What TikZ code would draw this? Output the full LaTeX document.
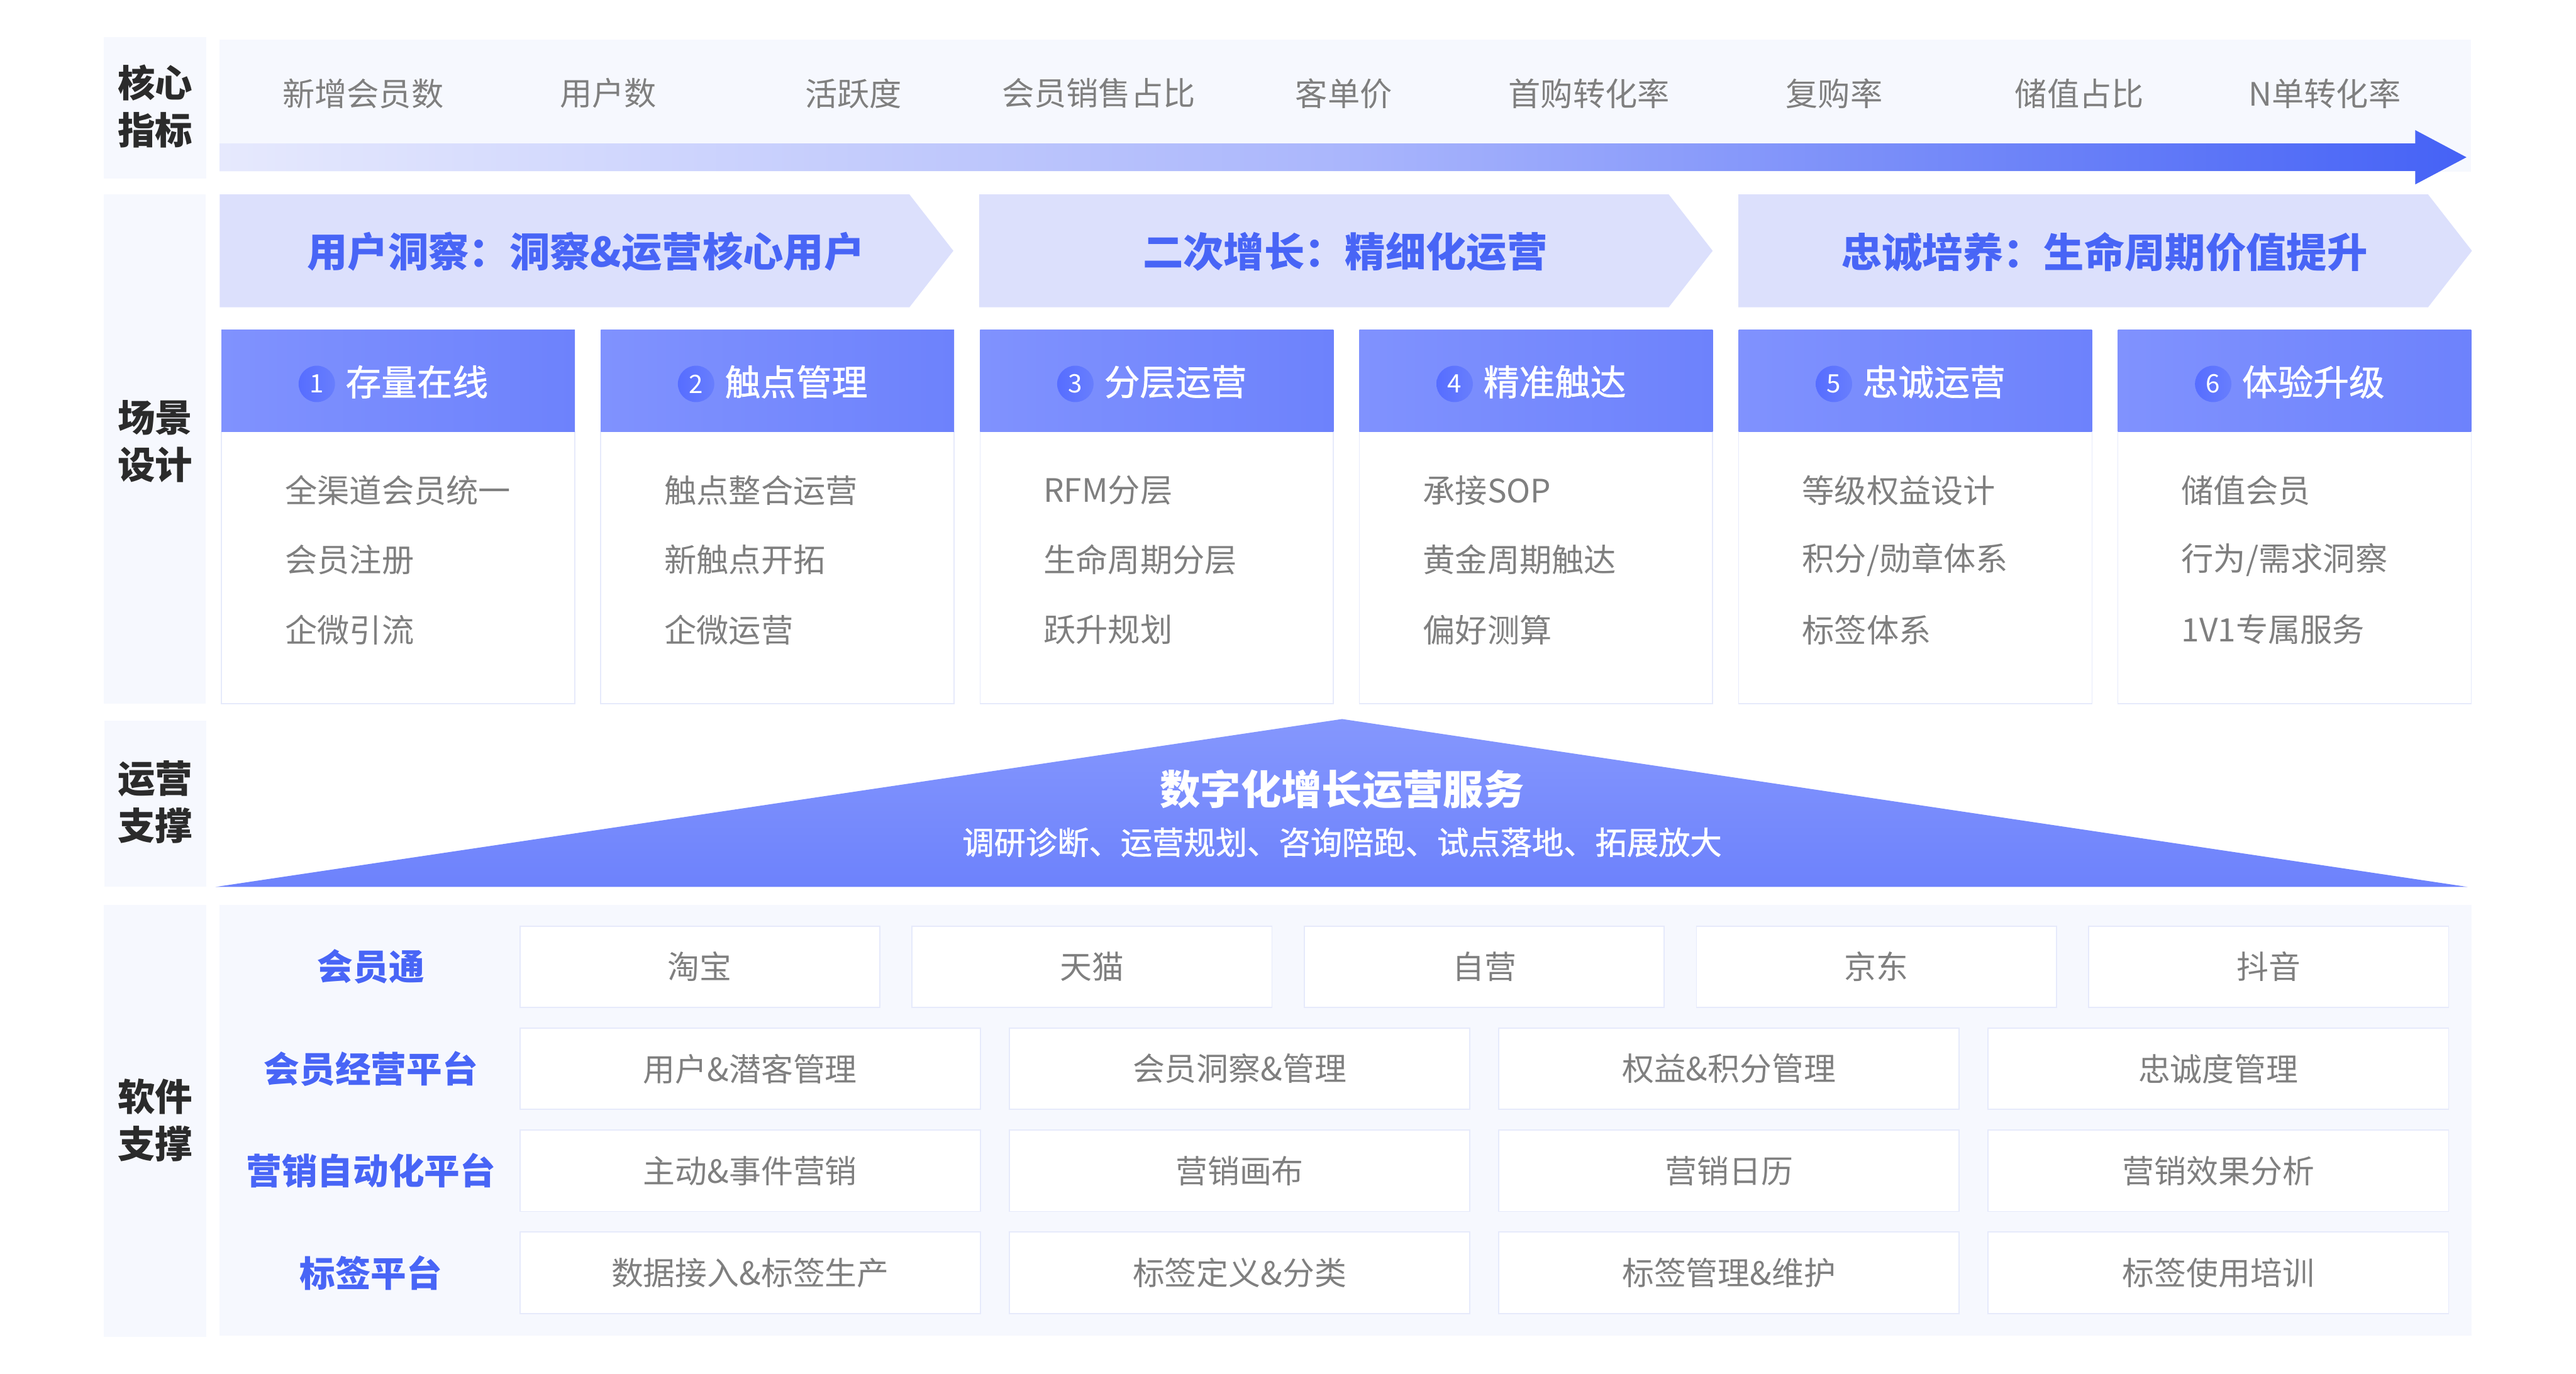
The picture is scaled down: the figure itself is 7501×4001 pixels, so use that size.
\documentclass[tikz,border=0pt]{standalone}
\usepackage{fontspec}
\setmainfont{Noto Sans CJK SC}
\newfontfamily\cjkmed{Noto Sans CJK SC}[FakeBold=1.2]
\definecolor{panelbg}{HTML}{F6F8FE}
\definecolor{chevfill}{HTML}{DCE0FC}
\definecolor{blueT}{HTML}{4865F6}
\definecolor{grayT}{HTML}{7F7F7F}
\definecolor{darkT}{HTML}{2B2B2B}
\definecolor{boxline}{HTML}{E6EAFB}
\definecolor{hdrL}{HTML}{8092FE}
\definecolor{hdrR}{HTML}{6D82FC}
\definecolor{triTop}{HTML}{8597FD}
\definecolor{triBot}{HTML}{6D82FC}
\definecolor{circL}{HTML}{566DFF}
\definecolor{circR}{HTML}{687EFD}
\definecolor{arrA}{HTML}{E6E9FD}
\definecolor{arrB}{HTML}{AAB6FC}
\definecolor{arrC}{HTML}{4562F6}
\tikzset{
  panel/.style={fill=panelbg},
  sidelab/.style={font=\fontsize{31pt}{39pt}\selectfont\bfseries, text=darkT, align=center},
  metric/.style={font=\fontsize{26.7pt}{32pt}\selectfont, text=grayT},
  chevtext/.style={font=\fontsize{33.5pt}{40pt}\selectfont\bfseries, text=blueT},
  hdrtext/.style={font=\cjkmed\fontsize{29.5pt}{35pt}\selectfont, text=white},
  numtext/.style={font=\fontsize{21pt}{25pt}\selectfont, text=white},
  itemtext/.style={font=\fontsize{26.7pt}{32pt}\selectfont, text=grayT},
  cardline/.style={draw=boxline, line width=0.9pt, fill=white},
  rowlab/.style={font=\fontsize{29.5pt}{35pt}\selectfont\bfseries, text=blueT},
  cell/.style={draw=boxline, line width=0.9pt, fill=white},
  celltext/.style={font=\fontsize{26.5pt}{32pt}\selectfont, text=grayT},
  tritle/.style={font=\fontsize{33.5pt}{40pt}\selectfont\bfseries, text=white},
  trisub/.style={font=\cjkmed\fontsize{26.2pt}{32pt}\selectfont, text=white},
}
\newcommand\mkcard[6]{%
  \draw[cardline] (#2,1257) rectangle ({#2+1029},2049);
  \shade[left color=hdrL,right color=hdrR] (#2,961) rectangle ({#2+1029},1257);
  \shade[left color=circL,right color=circR] ({#2+277.5},1118) circle (53);
  \node[numtext] (n#1) at ({#2+277.5},1118) {#1};
  \node[hdrtext, anchor=west] (h#1) at ({#2+361.5},1112) {#3};
  \node[itemtext, anchor=west] (i#1a) at ({#2+185},1428) {#4};
  \node[itemtext, anchor=west] (i#1b) at ({#2+185},1630) {#5};
  \node[itemtext, anchor=west] (i#1c) at ({#2+185},1834) {#6};
}
\begin{document}
\begin{tikzpicture}[x=0.01cm,y=-0.01cm, every node/.style={inner sep=0pt, outer sep=0pt}]
\useasboundingbox (0,0) rectangle (7501,4001);
\fill[white] (0,0) rectangle (7501,4001);

% ---------- core metrics ----------
\fill[panel] (303,108) rectangle (601,520);
\node[sidelab] (lab1) at (452,309) {核心\\指标};
\fill[panel] (640,115) rectangle (7196,500);
\foreach \t [count=\i from 0] in {新增会员数,用户数,活跃度,会员销售占比,客单价,首购转化率,复购率,储值占比,N单转化率}
  \node[metric] (m\i) at ({1057+714*\i},272) {\t};
\shade[left color=arrA, right color=arrC, middle color=arrB]
  (640,418) -- (7033,418) -- (7033,379) -- (7182,458) -- (7033,537) -- (7033,498) -- (640,498) -- cycle;

% ---------- scene design ----------
\fill[panel] (303,566) rectangle (598,2049);
\node[sidelab] (lab2) at (452,1285) {场景\\设计};
\foreach \xl/\t [count=\i] in {640/用户洞察：洞察\&运营核心用户, 2851/二次增长：精细化运营, 5062/忠诚培养：生命周期价值提升}{
  \fill[chevfill] (\xl,566) -- ({\xl+2008},566) -- ({\xl+2136},730.5) -- ({\xl+2008},895) -- (\xl,895) -- cycle;
  \node[chevtext] (c\i) at ({\xl+1066},733) {\t};
}
\mkcard{1}{645}{存量在线}{全渠道会员统一}{会员注册}{企微引流}
\mkcard{2}{1749.4}{触点管理}{触点整合运营}{新触点开拓}{企微运营}
\mkcard{3}{2853.8}{分层运营}{RFM分层}{生命周期分层}{跃升规划}
\mkcard{4}{3958.2}{精准触达}{承接SOP}{黄金周期触达}{偏好测算}
\mkcard{5}{5062.6}{忠诚运营}{等级权益设计}{积分/勋章体系}{标签体系}
\mkcard{6}{6167}{体验升级}{储值会员}{行为/需求洞察}{1V1专属服务}

% ---------- operations support ----------
\fill[panel] (304,2099) rectangle (600,2583);
\node[sidelab] (lab3) at (452,2336) {运营\\支撑};
\shade[top color=triTop, bottom color=triBot] (627,2583) -- (3908,2094) -- (7186,2583) -- cycle;
\node[tritle] (tt) at (3908,2298) {数字化增长运营服务};
\node[trisub] (ts) at (3908,2453) {调研诊断、运营规划、咨询陪跑、试点落地、拓展放大};

% ---------- software support ----------
\fill[panel] (303,2636) rectangle (600,3894);
\node[sidelab] (lab4) at (452,3262) {软件\\支撑};
\fill[panel] (640,2636) rectangle (7197,3889);
\node[rowlab] (rl1) at (1080,2815.5) {会员通};
\node[rowlab] (rl2) at (1080,3112.5) {会员经营平台};
\node[rowlab] (rl3) at (1080,3409.5) {营销自动化平台};
\node[rowlab] (rl4) at (1080,3706.5) {标签平台};
\foreach \t [count=\j from 0] in {淘宝,天猫,自营,京东,抖音}{
  \draw[cell] ({1514+1142*\j},2697) rectangle ++(1048,237);
  \node[celltext] (ra\j) at ({1514+1142*\j+524},2815.5) {\t};
}
\foreach \t [count=\j from 0] in {用户\&潜客管理,会员洞察\&管理,权益\&积分管理,忠诚度管理}{
  \draw[cell] ({1514+1425*\j},2994) rectangle ++(1341,237);
  \node[celltext] (rb\j) at ({1514+1425*\j+670.5},3112.5) {\t};
}
\foreach \t [count=\j from 0] in {主动\&事件营销,营销画布,营销日历,营销效果分析}{
  \draw[cell] ({1514+1425*\j},3291) rectangle ++(1341,237);
  \node[celltext] (rc\j) at ({1514+1425*\j+670.5},3409.5) {\t};
}
\foreach \t [count=\j from 0] in {数据接入\&标签生产,标签定义\&分类,标签管理\&维护,标签使用培训}{
  \draw[cell] ({1514+1425*\j},3588) rectangle ++(1341,237);
  \node[celltext] (rd\j) at ({1514+1425*\j+670.5},3706.5) {\t};
}
\end{tikzpicture}
\end{document}
